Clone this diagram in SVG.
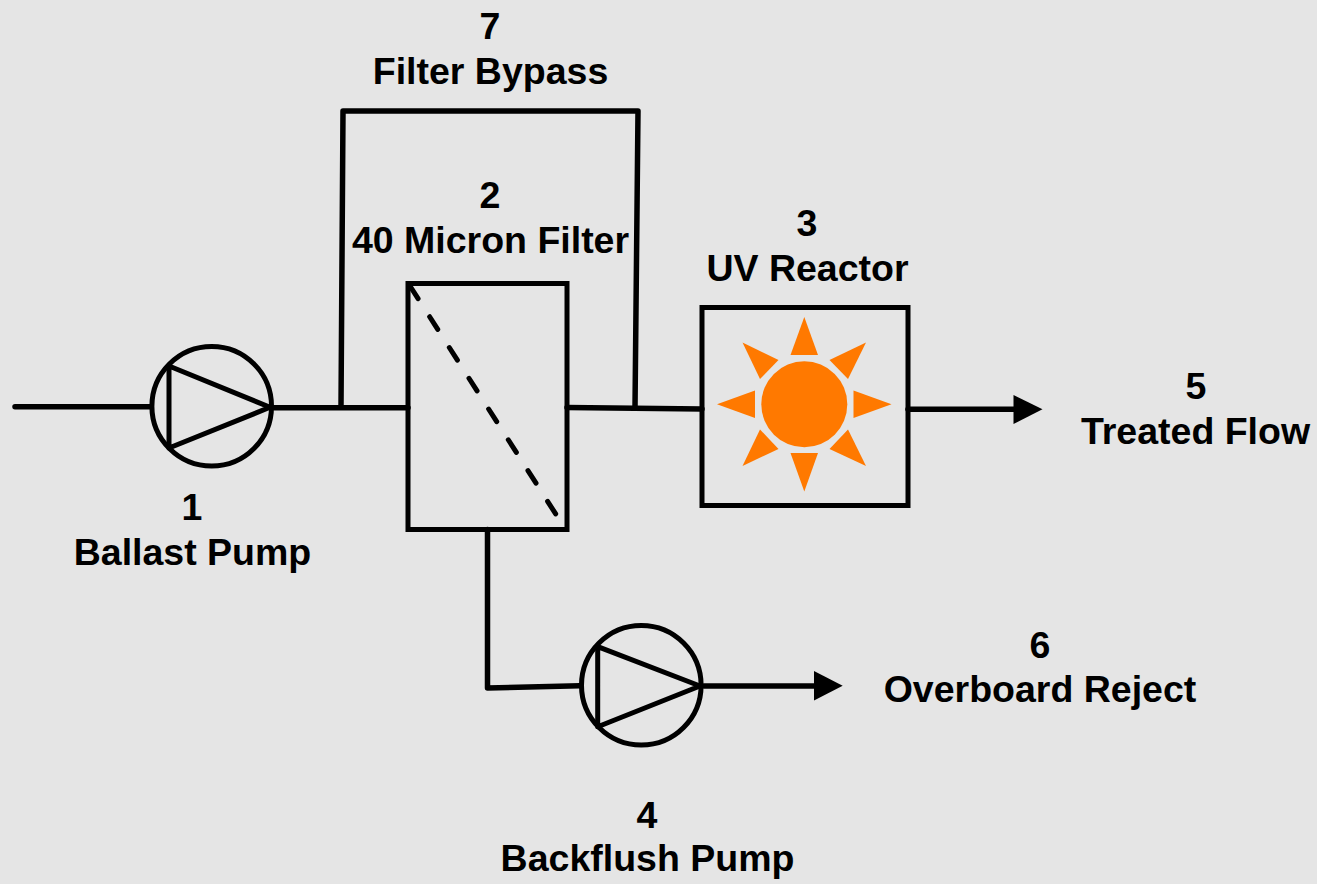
<svg xmlns="http://www.w3.org/2000/svg" width="1317" height="884" viewBox="0 0 1317 884">
<style>
.l{fill:none;stroke:#000;stroke-width:5.500;stroke-linecap:round;stroke-linejoin:round}
.p{fill:none;stroke:#000;stroke-width:5;stroke-linecap:round;stroke-linejoin:round}
.s{fill:none;stroke:#000;stroke-width:5;stroke-linejoin:miter}
.t{font-family:"Liberation Sans",Arial,sans-serif;font-weight:700;font-size:37.500px;fill:#000;text-anchor:middle}
.o{fill:#ff7900}
.h{fill:#000}
</style>
<rect width="1317" height="884" fill="#e5e5e5"/>
<g id="connectors">
<path class="l" d="M15 406.700H150"/>
<path class="l" d="M274 407.800H408"/>
<path class="l" d="M341 407L343 111H638L635 408"/>
<path class="l" d="M567 407.500L702 409"/>
<path class="l" d="M908 409.300H1016"/>
<polygon class="h" points="1013.500,395 1042.500,409.300 1013.500,424"/>
<path class="l" d="M487.500 529.500V688L580 685.700"/>
<path class="l" d="M704 686H816"/>
<polygon class="h" points="814,671 842.700,685.700 814,700.500"/>
</g>
<g id="node-1">
<circle class="s" cx="211.700" cy="406.200" r="59.800"/>
<path class="p" d="M169 366V448L270 407.300Z"/>
<text class="t" x="192" y="520">1</text>
<text class="t" x="192.500" y="565">Ballast Pump</text>
</g>
<g id="node-2">
<rect class="s" x="408" y="283.500" width="159" height="246"/>
<path class="p" d="M410 286L557 516" stroke-dasharray="15 21.500"/>
<text class="t" x="490" y="208">2</text>
<text class="t" x="490.500" y="253">40 Micron Filter</text>
</g>
<g id="node-3">
<rect class="s" x="702" y="307.500" width="206" height="198"/>
<circle class="o" cx="804.300" cy="404.300" r="43"/>
<polygon class="o" points="804.300,317 790.500,355 818,355"/>
<polygon class="o" points="804.300,491.500 790.500,453 818,453"/>
<polygon class="o" points="717,404.300 755,390.500 755,418"/>
<polygon class="o" points="891.500,404.300 853.500,390.500 853.500,418"/>
<polygon class="o" points="742.500,342.500 778.500,360 760,379"/>
<polygon class="o" points="866,342.500 829.500,360 848,379"/>
<polygon class="o" points="742.500,466 778.500,449 760,429.500"/>
<polygon class="o" points="866,466 829.500,449 848,429.500"/>
<text class="t" x="807" y="236">3</text>
<text class="t" x="807.500" y="281">UV Reactor</text>
</g>
<g id="node-4">
<circle class="s" cx="641.300" cy="685.200" r="59.800"/>
<path class="p" d="M597.700 646.700V726.700L700 686Z"/>
<text class="t" x="647" y="828">4</text>
<text class="t" x="647.500" y="871">Backflush Pump</text>
</g>
<g id="node-5">
<text class="t" x="1196" y="399">5</text>
<text class="t" x="1195.500" y="444">Treated Flow</text>
</g>
<g id="node-6">
<text class="t" x="1040" y="658">6</text>
<text class="t" x="1040" y="702">Overboard Reject</text>
</g>
<g id="node-7">
<text class="t" x="490" y="38.500">7</text>
<text class="t" x="490.500" y="83.500">Filter Bypass</text>
</g>
</svg>
